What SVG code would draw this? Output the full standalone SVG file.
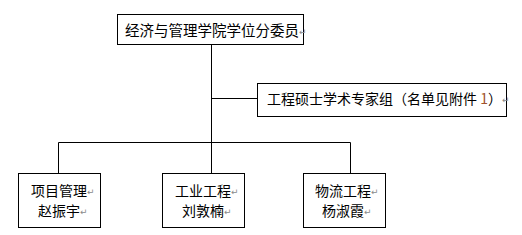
<svg xmlns="http://www.w3.org/2000/svg" width="522" height="235" viewBox="0 0 522 235">
<style>
.box{fill:#fff;stroke:#000;stroke-width:1}
.t{font-family:"Noto Sans CJK SC","Noto Sans CJK JP",sans-serif;fill:#000;font-size:14px}
.rm{font-family:"DejaVu Sans",sans-serif;font-size:9px;fill:#8a8a8a}
.ln{stroke:#000;stroke-width:1;fill:none}
</style>
<rect width="522" height="235" fill="#fff"/>
<g id="connectors">
<path class="ln" d="M211.5 44 V142.5 M211.5 98.5 H257 M58.5 173 V142.5 H350.5 V173 M211.5 142.5 V173"/>
</g>
<g id="committee">
<rect class="box" x="117.5" y="14.5" width="186" height="30"/>
<text class="t" x="125" y="36" style="font-size:14.5px">经济与管理学院学位分委员<tspan class="rm" dy="-1">↵</tspan></text>
</g>
<g id="expert-group">
<rect class="box" x="257.5" y="83.5" width="249" height="33"/>
<text class="t" x="267" y="104">工程硕士学术专家组（名单见附件 <tspan fill="#a0522d">1</tspan>）<tspan class="rm" dy="-1">↵</tspan></text>
</g>
<g id="project-management">
<rect class="box" x="18.5" y="173.5" width="82" height="54"/>
<text class="t" x="31" y="196">项目管理<tspan class="rm" dy="-1">↵</tspan></text>
<text class="t" x="38" y="216">赵振宇<tspan class="rm" dy="-1">↵</tspan></text>
</g>
<g id="industrial-engineering">
<rect class="box" x="162.5" y="173.5" width="82" height="54"/>
<text class="t" x="175" y="196">工业工程<tspan class="rm" dy="-1">↵</tspan></text>
<text class="t" x="182" y="216">刘敦楠<tspan class="rm" dy="-1">↵</tspan></text>
</g>
<g id="logistics-engineering">
<rect class="box" x="303.5" y="173.5" width="82" height="54"/>
<text class="t" x="315" y="196">物流工程<tspan class="rm" dy="-1">↵</tspan></text>
<text class="t" x="322" y="216">杨淑霞<tspan class="rm" dy="-1">↵</tspan></text>
</g>
</svg>
